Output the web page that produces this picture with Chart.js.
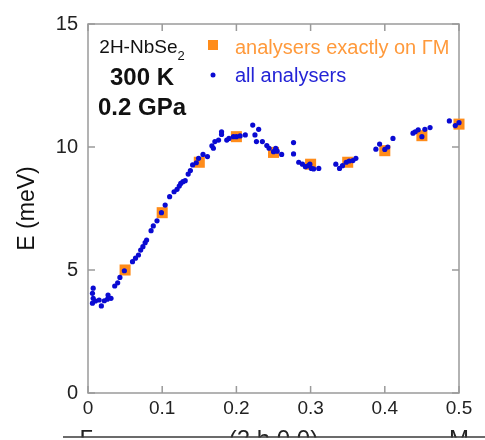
<!DOCTYPE html>
<html>
<head>
<meta charset="utf-8">
<script src="https://cdn.jsdelivr.net/npm/chart.js@4"></script>
<style>
  html, body { margin: 0; padding: 0; background: #fff; }
  #wrap { width: 485px; height: 440px; position: relative; }
</style>
</head>
<body>
<div id="wrap"><canvas id="dispersion"></canvas></div>
<script>
// Phonon dispersion along Gamma-M, 2H-NbSe2 at 300 K / 0.2 GPa.
// Orange squares = analysers sitting exactly on the line, blue dots = every analyser.

const onLineQ = [0.05, 0.10, 0.15, 0.20, 0.25, 0.30, 0.35, 0.40, 0.45, 0.50];
const onLineE = [5.00, 7.33, 9.38, 10.42, 9.78, 9.30, 9.38, 9.85, 10.46, 10.93];

const allQ = [
    0.006, 0.007, 0.007, 0.006, 0.010, 0.015, 0.018, 0.022, 0.026, 0.027,
    0.031, 0.036, 0.040, 0.043, 0.049, 0.060, 0.064, 0.068, 0.071, 0.074,
    0.077, 0.079, 0.085, 0.088, 0.093, 0.099, 0.104, 0.110, 0.116, 0.120,
    0.123, 0.125, 0.128, 0.131, 0.135, 0.138, 0.141, 0.146, 0.149, 0.155,
    0.161, 0.167, 0.169, 0.171, 0.176, 0.180, 0.180, 0.187, 0.190, 0.196,
    0.200, 0.205, 0.212, 0.222, 0.230, 0.225, 0.227, 0.235, 0.241, 0.244,
    0.250, 0.253, 0.255, 0.261, 0.277, 0.277, 0.284, 0.289, 0.293, 0.297,
    0.299, 0.301, 0.304, 0.311, 0.334, 0.339, 0.343, 0.348, 0.352, 0.357,
    0.361, 0.388, 0.393, 0.400, 0.404, 0.411, 0.438, 0.441, 0.445, 0.450,
    0.454, 0.461, 0.487, 0.495, 0.500
];
const allE = [
    4.05, 4.26, 3.85, 3.65, 3.74, 3.78, 3.54, 3.75, 3.81, 3.98,
    3.85, 4.35, 4.48, 4.70, 4.97, 5.34, 5.48, 5.61, 5.81, 5.95,
    6.11, 6.22, 6.60, 6.79, 7.00, 7.33, 7.64, 7.98, 8.18, 8.28,
    8.41, 8.52, 8.59, 8.63, 8.90, 9.04, 9.27, 9.36, 9.54, 9.70,
    9.61, 10.05, 9.95, 10.22, 10.28, 10.62, 10.51, 10.28, 10.35, 10.42,
    10.42, 10.45, 10.49, 10.89, 10.72, 10.49, 10.22, 10.22, 10.06, 9.95,
    9.81, 9.95, 9.83, 9.70, 10.18, 9.72, 9.38, 9.30, 9.20, 9.24,
    9.30, 9.13, 9.11, 9.13, 9.30, 9.13, 9.24, 9.38, 9.43, 9.45,
    9.54, 9.91, 10.12, 9.90, 10.00, 10.35, 10.56, 10.62, 10.70, 10.42,
    10.72, 10.79, 11.06, 10.87, 10.99
];

const xTicks = [0, 0.1, 0.2, 0.3, 0.4, 0.5];
const yTicks = [0, 5, 10, 15];
const pathLabels = [
    { q: 0, text: "Γ" },
    { q: 0.25, text: "(2 h 0 0)" },
    { q: 0.5, text: "M" }
];

const ORANGE = "#ff8c1a";
const ORANGE_TEXT = "#ff9a3c";
const BLUE = "#0a0ad2";
const FRAME = "#9a9a9a";
const FONT = "'Liberation Sans', Arial, sans-serif";

// frame + inward ticks on all four sides, drawn under the data
const framePlugin = {
    id: "frame",
    beforeDatasetsDraw(chart) {
        const { ctx, chartArea: a, scales } = chart;
        ctx.save();
        ctx.strokeStyle = FRAME;
        ctx.lineWidth = 1.5;
        ctx.strokeRect(a.left, a.top, a.right - a.left, a.bottom - a.top);
        const len = 7;
        ctx.beginPath();
        for (const v of xTicks) {
            const px = scales.x.getPixelForValue(v);
            ctx.moveTo(px, a.bottom); ctx.lineTo(px, a.bottom - len);
            ctx.moveTo(px, a.top); ctx.lineTo(px, a.top + len);
        }
        for (const v of yTicks) {
            const py = scales.y.getPixelForValue(v);
            ctx.moveTo(a.left, py); ctx.lineTo(a.left + len, py);
            ctx.moveTo(a.right, py); ctx.lineTo(a.right - len, py);
        }
        ctx.stroke();
        ctx.restore();
    }
};

// sample text, hand-made legend and the half-cut path labels under the axis
const notesPlugin = {
    id: "notes",
    afterDraw(chart) {
        const { ctx, scales } = chart;
        ctx.save();

        ctx.fillStyle = "#111";
        ctx.textAlign = "left";
        ctx.textBaseline = "alphabetic";
        ctx.font = `19px ${FONT}`;
        const main = "2H-NbSe";
        const w = ctx.measureText(main).width;
        ctx.font = `13px ${FONT}`;
        const ws = ctx.measureText("2").width;
        let x0 = 142 - (w + ws) / 2;
        ctx.font = `19px ${FONT}`;
        ctx.fillText(main, x0, 53);
        ctx.font = `13px ${FONT}`;
        ctx.fillText("2", x0 + w, 60);

        ctx.textAlign = "center";
        ctx.font = `bold 24px ${FONT}`;
        ctx.fillText("300 K", 142, 85);
        ctx.fillText("0.2 GPa", 142, 115);

        // legend
        const ds = chart.data.datasets;
        ctx.fillStyle = ORANGE;
        ctx.fillRect(208, 40, 10, 10);
        ctx.fillStyle = BLUE;
        ctx.beginPath();
        ctx.arc(213, 75, 2.5, 0, Math.PI * 2);
        ctx.fill();
        ctx.textAlign = "left";
        ctx.font = `20px ${FONT}`;
        ctx.fillStyle = ORANGE_TEXT;
        ctx.fillText(ds[1].label, 235, 54);
        ctx.fillStyle = "#2424d6";
        ctx.fillText(ds[0].label, 235, 82);

        // path labels, cut off by the figure edge
        ctx.fillStyle = "#222";
        ctx.textAlign = "center";
        ctx.font = `24px ${FONT}`;
        for (const p of pathLabels) {
            const dx = p.text === "Γ" ? -2 : 0;
            ctx.fillText(p.text, scales.x.getPixelForValue(p.q) + dx, 447);
        }
        ctx.fillStyle = "#fff";
        ctx.fillRect(0, 437.5, 485, 10);
        ctx.strokeStyle = "#3a3a3a";
        ctx.lineWidth = 1.5;
        ctx.beginPath();
        ctx.moveTo(63, 437);
        ctx.lineTo(485, 437);
        ctx.stroke();

        ctx.restore();
    }
};

const ctx = document.getElementById("dispersion");

new Chart(ctx, {
    type: "scatter",
    data: {
        datasets: [
            {
                label: "all analysers",
                data: allQ.map((q, i) => ({ x: q, y: allE[i] })),
                pointStyle: "circle",
                pointRadius: 2.6,
                pointBackgroundColor: BLUE,
                pointBorderWidth: 0,
                clip: false
            },
            {
                label: "analysers exactly on ΓM",
                data: onLineQ.map((q, i) => ({ x: q, y: onLineE[i] })),
                pointStyle: "rect",
                pointRadius: 7.8,
                pointBackgroundColor: ORANGE,
                pointBorderWidth: 0,
                clip: false
            }
        ]
    },
    options: {
        responsive: true,
        maintainAspectRatio: false,
        animation: false,
        events: [],
        layout: { padding: { top: 24, right: 26, left: 0, bottom: 0 } },
        plugins: {
            legend: { display: false },
            tooltip: { enabled: false }
        },
        scales: {
            x: {
                type: "linear",
                min: 0,
                max: 0.5,
                afterFit: s => { s.height = 47; },
                afterBuildTicks: s => { s.ticks = xTicks.map(v => ({ value: v })); },
                grid: { display: false, drawTicks: false },
                border: { display: false },
                ticks: {
                    color: "#222",
                    font: { family: FONT, size: 19 },
                    padding: 4,
                    maxRotation: 0,
                    callback: v => (v === 0 ? "0" : v.toFixed(1))
                }
            },
            y: {
                min: 0,
                max: 15,
                afterFit: s => { s.width = 88; },
                afterBuildTicks: s => { s.ticks = yTicks.map(v => ({ value: v })); },
                grid: { display: false, drawTicks: false },
                border: { display: false },
                ticks: {
                    color: "#222",
                    font: { family: FONT, size: 20 },
                    padding: 10
                },
                title: {
                    display: true,
                    text: "E (meV)",
                    color: "#111",
                    font: { family: FONT, size: 23 },
                    padding: { top: 14, bottom: 0 }
                }
            }
        }
    },
    plugins: [framePlugin, notesPlugin]
});
</script>
</body>
</html>
